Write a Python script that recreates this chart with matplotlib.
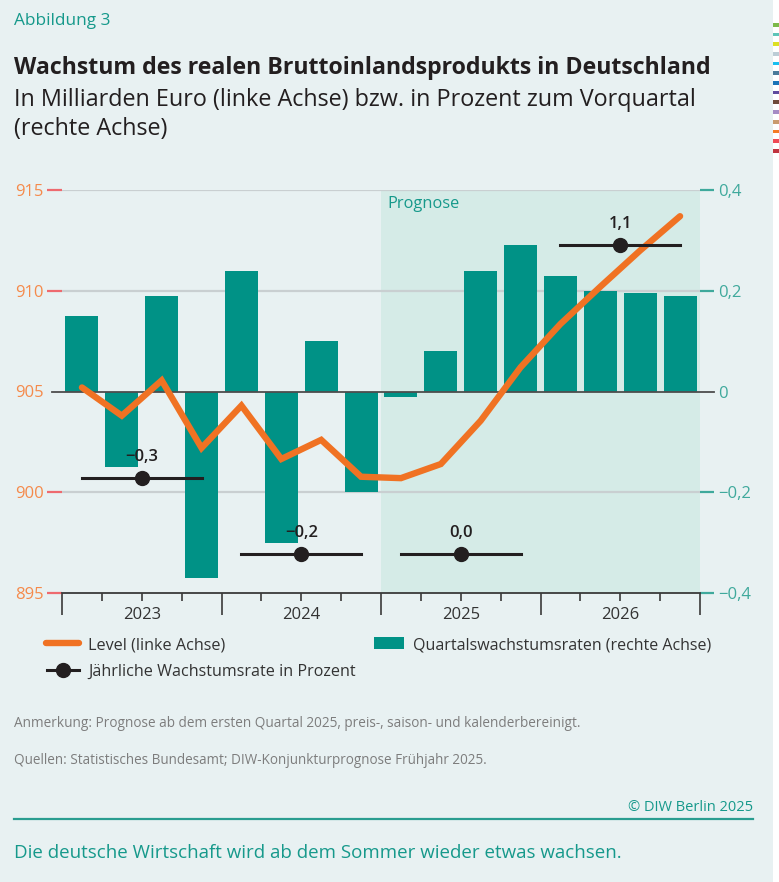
import matplotlib
matplotlib.use("Agg")
import matplotlib.pyplot as plt
from matplotlib.lines import Line2D
from matplotlib.patches import Rectangle

plt.rcParams["font.family"] = ["Open Sans", "DejaVu Sans"]

# data (quarters 2023Q1 .. 2026Q4)
years = ["2023", "2024", "2025", "2026"]
quarterly_growth = [0.15, -0.15, 0.19, -0.37, 0.24, -0.30, 0.10, -0.20,
                    -0.01, 0.08, 0.24, 0.29, 0.23, 0.20, 0.195, 0.19]
gdp_level = [905.2, 903.8, 905.55, 902.2, 904.3, 901.65, 902.6, 900.77,
             900.7, 901.4, 903.55, 906.2, 908.35, 910.2, 912.0, 913.7]
annual_growth = [-0.3, -0.2, 0.0, 1.1]
annual_marker_level = [900.7, 896.93, 896.95, 912.25]
forecast_start = 8
left_ticks = [895, 900, 905, 910, 915]
right_ticks = [-0.4, -0.2, 0.0, 0.2, 0.4]
right_labels = ["\u22120,4", "\u22120,2", "0", "0,2", "0,4"]
stripe_colors = ["#7dba4a", "#5ec4b8", "#dde024", "#bccdd6", "#19bff0", "#4a7b9b", "#1a74b8",
                 "#5e4a9e", "#6e4a3a", "#a58bc4", "#c99a6e", "#f47a25", "#ef4a55", "#c0343f"]

BG = "#e8f1f2"
SHADE = "#d5ebe7"
TEAL = "#009286"
TEAL_TXT = "#16998b"
ORANGE = "#f07223"
DARK = "#231f20"
GRID = "#c9cfd1"

W, H = 779, 882


def de_pct(v):
    s = f"{abs(v):.1f}".replace(".", ",")
    return ("\u2212" + s) if v < 0 else s


def ftext(x, y, s, **kw):
    return fig.text(x / W, 1 - y / H, s, **kw)


fig = plt.figure(figsize=(W / 100, H / 100), dpi=100)
fig.patch.set_facecolor(BG)

ax = fig.add_axes([62 / W, 1 - 593 / H, 638 / W, 403 / H])
ax2 = ax.twinx()
ax.set_zorder(ax2.get_zorder() + 1)
ax.patch.set_visible(False)

x = list(range(len(quarterly_growth)))
ax2.axvspan(forecast_start - 0.5, len(x) - 0.5, color=SHADE, lw=0, zorder=0)
for v in [-0.2, 0.2, 0.4]:
    ax2.axhline(v, color=GRID, lw=1.6, zorder=1)
ax2.bar(x, quarterly_growth, width=0.83, color=TEAL, zorder=2)
ax2.axhline(0, xmin=-10 / 638, xmax=652 / 638, color="#4d4d4d", lw=1.3,
            clip_on=False, zorder=3)

ax.plot(x, gdp_level, color=ORANGE, lw=4.6, solid_joinstyle="miter",
        solid_capstyle="round", zorder=4)

for k, (g, lvl) in enumerate(zip(annual_growth, annual_marker_level)):
    ax.plot([4 * k, 4 * k + 3], [lvl, lvl], color=DARK, lw=2.2, zorder=5)
    ax.plot(4 * k + 1.5, lvl, "o", ms=10, color=DARK, zorder=6)
    ax.annotate(de_pct(g), (4 * k + 1.5, lvl), xytext=(0, 12.3), textcoords="offset points",
                ha="center", va="baseline", fontsize=12, fontweight="semibold",
                color=DARK, zorder=7)

ax.set_xlim(-0.5, len(x) - 0.5)
ax.set_ylim(895, 915)
ax2.set_ylim(-0.4, 0.4)

for a in (ax, ax2):
    for sp in a.spines.values():
        sp.set_visible(False)
ax.spines["bottom"].set_visible(True)
ax.spines["bottom"].set_color("#3a3a3a")
ax.spines["bottom"].set_linewidth(1.3)

ax.set_yticks(left_ticks)
ax.set_yticklabels([str(t) for t in left_ticks])
ax.tick_params(axis="y", length=11, width=1.6, color="#ee6a6f", labelcolor="#f58a4b",
               labelsize=12, pad=2)
ax.yaxis.get_major_ticks()[2].tick1line.set_visible(False)

ax2.set_yticks(right_ticks)
ax2.set_yticklabels(right_labels)
ax2.tick_params(axis="y", length=10, width=1.6, color="#3fa99c", labelcolor="#3fa99c",
                labelsize=12, pad=3)
ax2.yaxis.get_major_ticks()[2].tick2line.set_visible(False)

ax.set_xticks([-0.5, 3.5, 7.5, 11.5, 15.5])
ax.set_xticks([i + 0.5 for i in range(15) if (i + 1) % 4 != 0], minor=True)
ax.tick_params(axis="x", which="major", length=16, width=1.2, color="#3a3a3a", labelbottom=False)
ax.tick_params(axis="x", which="minor", length=5.8, width=1.2, color="#3a3a3a")

for k, yr in enumerate(years):
    ax.text(4 * k + 1.5, -0.0653, yr, transform=ax.get_xaxis_transform(), ha="center",
            va="baseline", fontsize=12, color="#333333")

ax.text(forecast_start - 0.5 + 0.15, 0.9546, "Prognose", transform=ax.get_xaxis_transform(),
        ha="left", va="baseline", fontsize=11.8, color=TEAL_TXT)

# header
ftext(14, 25, "Abbildung 3", fontsize=12.4, color=TEAL_TXT, va="baseline")
ftext(14, 74, "Wachstum des realen Bruttoinlandsprodukts in Deutschland", fontsize=16.7,
      fontweight="bold", color=DARK, va="baseline")
ftext(14, 106, "In Milliarden Euro (linke Achse) bzw. in Prozent zum Vorquartal",
      fontsize=16.8, color=DARK, va="baseline")
ftext(14, 135, "(rechte Achse)", fontsize=16.8, color=DARK, va="baseline")

# legend
fig.add_artist(Line2D([46 / W, 79 / W], [1 - 643 / H] * 2, transform=fig.transFigure,
                      color=ORANGE, lw=4.6, solid_capstyle="round"))
ftext(88, 649.3, "Level (linke Achse)", fontsize=11.6, color="#333333", va="baseline")
fig.add_artist(Rectangle((374 / W, 1 - 649 / H), 30 / W, 12 / H, transform=fig.transFigure,
                         color=TEAL, lw=0))
ftext(413, 649.3, "Quartalswachstumsraten (rechte Achse)", fontsize=11.5, color="#333333",
      va="baseline")
fig.add_artist(Line2D([47 / W, 79 / W], [1 - 670 / H] * 2, transform=fig.transFigure,
                      color=DARK, lw=2.2))
fig.add_artist(Line2D([63 / W], [1 - 670 / H], transform=fig.transFigure, marker="o",
                      ms=10, color=DARK, lw=0))
ftext(88, 676, "J\u00e4hrliche Wachstumsrate in Prozent", fontsize=11.6, color="#333333",
      va="baseline")

# notes
ftext(14, 727.3, "Anmerkung: Prognose ab dem ersten Quartal 2025, preis-, saison- und "
      "kalenderbereinigt.", fontsize=9.8, color="#7d7d7d", va="baseline")
ftext(14, 764, "Quellen: Statistisches Bundesamt; DIW-Konjunkturprognose Fr\u00fchjahr 2025.",
      fontsize=9.75, color="#7d7d7d", va="baseline")

ftext(753, 810.7, "\u00a9 DIW Berlin 2025", fontsize=10.5, color=TEAL_TXT, ha="right",
      va="baseline")
fig.add_artist(Line2D([14 / W, 753 / W], [1 - 819 / H] * 2, transform=fig.transFigure,
                      color="#2a9d90", lw=1.6))
ftext(14, 858.3, "Die deutsche Wirtschaft wird ab dem Sommer wieder etwas wachsen.",
      fontsize=13.5, color=TEAL_TXT, va="baseline")

# colour strip at the right edge
fig.add_artist(Rectangle((773 / W, 0), 6 / W, 1, transform=fig.transFigure, color="white", lw=0))
for i, c in enumerate(stripe_colors):
    yc = 24.7 + i * 9.7
    fig.add_artist(Rectangle((773 / W, 1 - (yc + 1.8) / H), 6 / W, 3.6 / H,
                             transform=fig.transFigure, color=c, lw=0))

fig.savefig("out.png", dpi=100, facecolor=BG)
plt.close(fig)
